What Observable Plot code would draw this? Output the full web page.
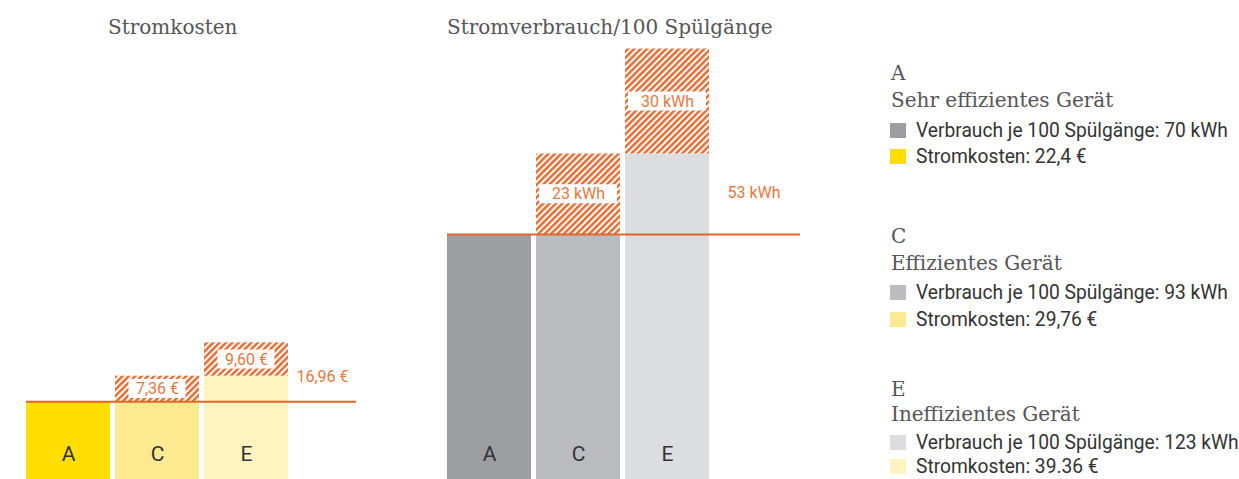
<!DOCTYPE html>
<html>
<head>
<meta charset="utf-8">
<script src="https://cdn.jsdelivr.net/npm/d3@7"></script>
<script src="https://cdn.jsdelivr.net/npm/@observablehq/plot@0.6"></script>
<style>
  body { margin: 0; background: #fff; }
  #wrap { position: relative; width: 1239px; height: 479px; overflow: hidden; font-family: Roboto, "Liberation Sans", sans-serif; }
  .title { position: absolute; font-family: "DejaVu Serif", serif; font-size: 20px; line-height: 20px; color: #555; white-space: nowrap; }
  .lg { position: absolute; left: 891px; white-space: nowrap; }
  .lg-serif { font-family: "DejaVu Serif", serif; font-size: 20px; line-height: 20px; color: #555; }
  .lg-row { font-family: Roboto, "Liberation Sans", sans-serif; font-size: 20px; line-height: 20px; color: #333; left: 916px; transform: scaleX(0.96); transform-origin: 0 0; }
  .sw { position: absolute; left: 890px; width: 16px; height: 15px; }
  .panel { position: absolute; top: 45px; }
</style>
</head>
<body>
<div id="wrap"></div>
<script>
// ---- data ----
const classes = ["A", "C", "E"];
const classNames = ["Sehr effizientes Gerät", "Effizientes Gerät", "Ineffizientes Gerät"];
const kwhValues = [70, 93, 123];
const euroValues = [22.4, 29.76, 39.36];
const kwhLabels = ["70 kWh", "93 kWh", "123 kWh"];
const euroLabels = ["22,4 €", "29,76 €", "39.36 €"];
const greyColors = ["#9d9ea1", "#bbbcc0", "#dcdde0"];
const yellowColors = ["#ffde00", "#fde98f", "#fff3bf"];
const titles = ["Stromkosten", "Stromverbrauch/100 Spülgänge"];

const orangeLine = "#e2662c";
const orangeText = "#e8773d";
const orangeHatch = "#e86d33";

const de = d3.formatLocale({decimal: ",", thousands: ".", grouping: [3], currency: ["", " €"]});
const fmtEuro = v => de.format(".2f")(v) + " €";
const fmtKwh = v => d3.format("d")(Math.round(v)) + " kWh";

const wrap = document.getElementById("wrap");

function addHatch(svg, id) {
  const defs = d3.select(svg).insert("defs", ":first-child");
  const p = defs.append("pattern")
    .attr("id", id)
    .attr("patternUnits", "userSpaceOnUse")
    .attr("width", 4.5).attr("height", 4.5)
    .attr("patternTransform", "rotate(45)");
  p.append("rect").attr("width", 4.5).attr("height", 4.5).attr("fill", "#fff");
  p.append("rect").attr("width", 2.5).attr("height", 4.5).attr("fill", orangeHatch);
}

function panel(opts) {
  const {values, colors, fmt, yMax, left, width, marginLeft, marginRight, paddingOuter,
         boxInsetX, boxHeight, totalDx, totalDy, hatchId} = opts;
  const bars = classes.map((c, i) => ({cls: c, top: i === 0 ? values[0] : values[i - 1], color: colors[i]}));
  const steps = classes.slice(1).map((c, i) => ({
    cls: c, lo: values[i], hi: values[i + 1],
    mid: (values[i] + values[i + 1]) / 2,
    label: fmt(values[i + 1] - values[i])
  }));
  const base = values[0];
  const peak = values[values.length - 1];
  const total = [{v: base, label: fmt(peak - base)}];

  const svg = Plot.plot({
    width, height: 434,
    marginTop: 0, marginBottom: 0, marginLeft, marginRight,
    x: {type: "band", domain: classes, paddingInner: 5 / 89, paddingOuter, align: 0, axis: null},
    y: {domain: [0, yMax], axis: null},
    color: {type: "identity"},
    style: {fontFamily: "Roboto, 'Liberation Sans', sans-serif", background: "transparent", overflow: "visible"},
    marks: [
      Plot.barY(bars, {x: "cls", y: "top", fill: "color"}),
      Plot.barY(steps, {x: "cls", y1: "lo", y2: "hi", fill: `url(#${hatchId})`}),
      Plot.barY(steps, {x: "cls", y1: "mid", y2: "mid", fill: "#fff",
        insetLeft: boxInsetX, insetRight: boxInsetX, insetTop: -boxHeight / 2, insetBottom: -boxHeight / 2}),
      Plot.text(steps, {x: "cls", y: "mid", text: "label", fill: orangeText, fontSize: 16}),
      Plot.text(classes, {x: d => d, frameAnchor: "bottom", dy: -19, text: d => d, fill: "#333", fontSize: 21}),
      Plot.ruleY([base], {stroke: orangeLine, strokeWidth: 2.2}),
      Plot.ruleY([{v: peak, cls: classes[classes.length - 1]}], {y: "v", x1: "cls", stroke: orangeLine, strokeWidth: 1.1}),
      Plot.text(total, {y: "v", text: "label", frameAnchor: "right", textAnchor: "end", dx: totalDx, dy: totalDy, fill: orangeText, fontSize: 16})
    ]
  });
  addHatch(svg, hatchId);
  svg.classList.add("panel");
  svg.style.left = left + "px";
  wrap.appendChild(svg);
}

panel({values: euroValues, colors: yellowColors, fmt: fmtEuro, yMax: 125,
  left: 0, width: 370, marginLeft: 26, marginRight: 14, paddingOuter: 0.382,
  boxInsetX: 13.5, boxHeight: 19, totalDx: -8, totalDy: -25, hatchId: "hatchL"});

panel({values: kwhValues, colors: greyColors, fmt: fmtKwh, yMax: 124,
  left: 420, width: 400, marginLeft: 27, marginRight: 20, paddingOuter: 0.511,
  boxInsetX: 3, boxHeight: 19, totalDx: -20, totalDy: -42, hatchId: "hatchM"});

// titles
[[titles[0], 108], [titles[1], 447]].forEach(([t, x]) => {
  const d = document.createElement("div");
  d.className = "title";
  d.textContent = t;
  d.style.left = x + "px";
  d.style.top = "17px";
  wrap.appendChild(d);
});

// legend (line tops per group: class, name, consumption row, cost row)
const legendTops = [[63, 90, 120, 146], [226, 253, 282, 309], [379, 404, 432, 456]];
classes.forEach((c, i) => {
  const [t0, t1, t2, t3] = legendTops[i];
  const add = (cls, text, top) => {
    const d = document.createElement("div");
    d.className = "lg " + cls;
    d.textContent = text;
    d.style.top = top + "px";
    wrap.appendChild(d);
  };
  const sw = (color, top) => {
    const s = document.createElement("div");
    s.className = "sw";
    s.style.background = color;
    s.style.top = top + "px";
    wrap.appendChild(s);
  };
  add("lg-serif", c, t0);
  add("lg-serif", classNames[i], t1);
  add("lg-row", "Verbrauch je 100 Spülgänge: " + kwhLabels[i], t2);
  add("lg-row", "Stromkosten: " + euroLabels[i], t3);
  sw(greyColors[i], t2 + 3);
  sw(yellowColors[i], t3 + 3);
});
</script>
</body>
</html>
